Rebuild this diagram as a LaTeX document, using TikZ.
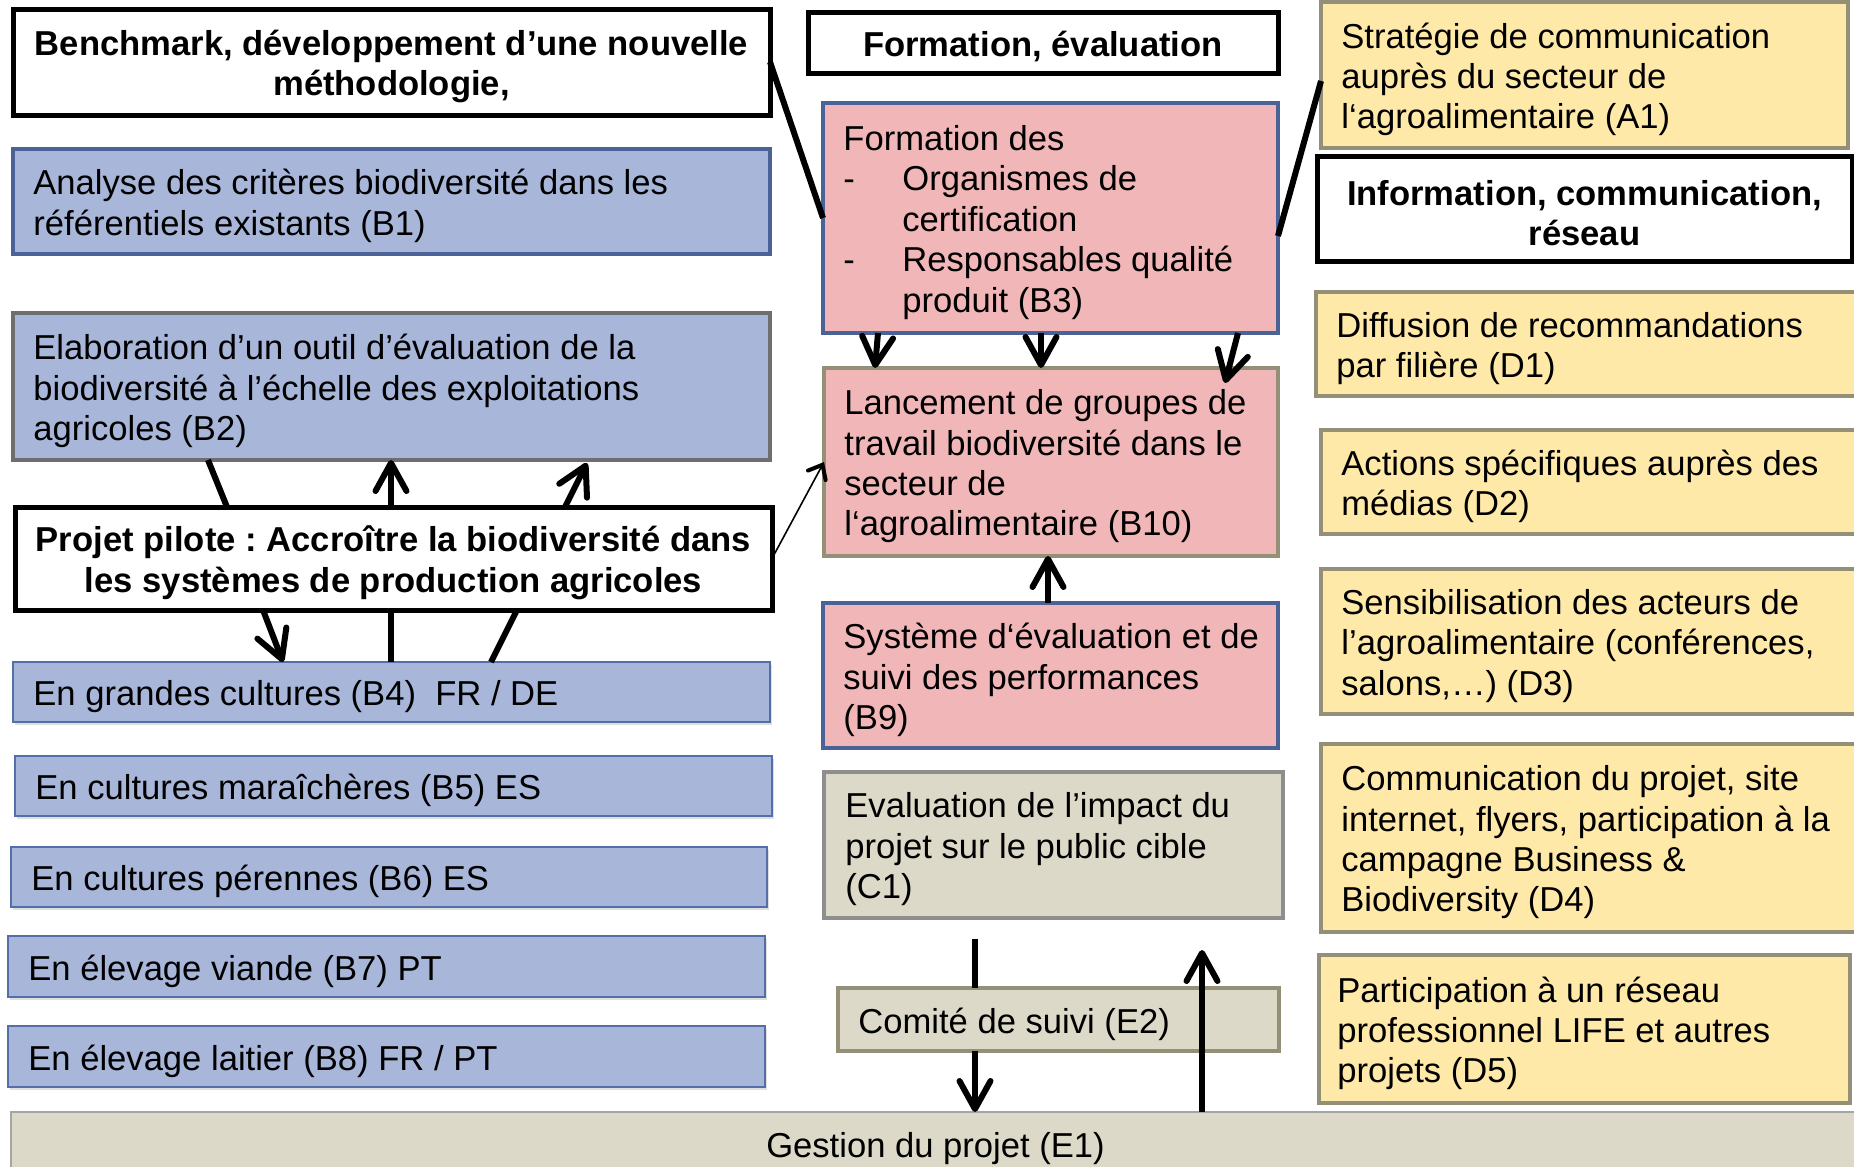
\documentclass[tikz,border=0pt]{standalone}
\usepackage{fontspec}
\setmainfont{Liberation Sans}
\usetikzlibrary{arrows.meta,shadows}
\frenchspacing
\definecolor{bluefill}{RGB}{167,182,217}
\definecolor{blueline}{RGB}{74,98,150}
\definecolor{bluethin}{RGB}{84,110,168}
\definecolor{pinkfill}{RGB}{241,182,183}
\definecolor{olive}{RGB}{148,144,120}
\definecolor{beige}{RGB}{220,217,200}
\definecolor{yellowfill}{RGB}{254,233,168}
\definecolor{grayline}{RGB}{110,110,110}
\definecolor{graylight}{RGB}{142,142,142}
\definecolor{grayE}{RGB}{165,165,165}
\tikzset{
  bbox/.style={rectangle, anchor=north west, inner sep=0pt, outer sep=0pt},
  hdr/.style={bbox, draw=black, line width=2.5pt, fill=white},
  htxt/.style={anchor=center, align=center, inner sep=0pt, font=\mainfs\bfseries},
  ctxt/.style={anchor=center, align=center, inner sep=0pt, font=\mainfs},
  bluebox/.style={bbox, fill=bluefill, draw=blueline, line width=2pt},
  bluethinbox/.style={bbox, fill=bluefill, draw=bluethin, line width=1pt,
     drop shadow={opacity=0.25, shadow xshift=1pt, shadow yshift=-1.5pt}},
  pinkbox/.style={bbox, fill=pinkfill, line width=2pt},
  beigebox/.style={bbox, fill=beige, line width=2.2pt},
  yelbox/.style={bbox, fill=yellowfill, draw=olive, line width=2.2pt},
  txt/.style={anchor=west, align=left, inner sep=0pt, font=\mainfs},
  conn/.style={line width=3pt, draw=black},
  arr/.style={conn, -{Straight Barb[length=14pt,width=15.5pt,line cap=round,line join=round]}},
  thinarr/.style={line width=0.8pt, draw=black, -{Straight Barb[length=6pt,width=10pt,line width=2pt,line cap=round]}}
}
\newcommand{\mainfs}{\fontsize{17.3pt}{20.2pt}\selectfont}
\begin{document}
\begin{tikzpicture}[x=0.5pt,y=-0.5pt]
\useasboundingbox (0,0) rectangle (1854,1167);
\clip (0,0) rectangle (1854,1167);

% ---------- left column ----------
\node[hdr, minimum width=378.5pt, minimum height=53pt] (bench) at (13,9) {};
\node[htxt] (bencht) at ([yshift=-2.2pt]bench.center) {Benchmark, développement d’une nouvelle\\méthodologie,};
\node[bluebox, minimum width=378.5pt, minimum height=52.5pt] (b1) at (13,149) {};
\node[txt] (b1t) at ([xshift=10pt,yshift=-2.2pt]b1.west) {Analyse des critères biodiversité dans les\\référentiels existants (B1)};
\node[bluebox, draw=grayline, minimum width=378.5pt, minimum height=73.5pt] (b2) at (13,313) {};
\node[txt] (b2t) at ([xshift=10pt,yshift=-2.2pt]b2.west) {Elaboration d’un outil d’évaluation de la\\biodiversité à l’échelle des exploitations\\agricoles (B2)};
\node[hdr, minimum width=378.5pt, minimum height=51.5pt] (pilot) at (15,507) {};
\node[htxt] (pilott) at ([yshift=-2.2pt]pilot.center) {Projet pilote : Accroître la biodiversité dans\\les systèmes de production agricoles};
\node[bluethinbox, minimum width=378.5pt, minimum height=30pt] (b4) at (13,662) {};
\node[txt] (b4t) at ([xshift=10pt,yshift=-2.2pt]b4.west) {En grandes cultures (B4)\ \ FR / DE};
\node[bluethinbox, minimum width=378.5pt, minimum height=30pt] (b5) at (15,756) {};
\node[txt] (b5t) at ([xshift=10pt,yshift=-2.2pt]b5.west) {En cultures maraîchères (B5) ES};
\node[bluethinbox, minimum width=378pt, minimum height=30pt] (b6) at (11,847) {};
\node[txt] (b6t) at ([xshift=10pt,yshift=-2.2pt]b6.west) {En cultures pérennes (B6) ES};
\node[bluethinbox, minimum width=378.5pt, minimum height=30.5pt] (b7) at (8,936) {};
\node[txt] (b7t) at ([xshift=10pt,yshift=-2.2pt]b7.west) {En élevage viande (B7) PT};
\node[bluethinbox, minimum width=378.5pt, minimum height=30.5pt] (b8) at (8,1026) {};
\node[txt] (b8t) at ([xshift=10pt,yshift=-2.2pt]b8.west) {En élevage laitier (B8) FR / PT};

% ---------- bottom ----------
\node[bbox, fill=beige, draw=grayE, line width=1pt, minimum width=924.5pt, minimum height=35pt] (e1) at (11,1112) {};
\node[ctxt] (e1t) at ([yshift=-0.8pt]e1.center) {Gestion du projet (E1)};

% ---------- middle column ----------
\node[hdr, minimum width=235pt, minimum height=30.5pt] (form) at (808,12) {};
\node[htxt] (formt) at ([yshift=-2.2pt]form.center) {Formation, évaluation};
\node[pinkbox, draw=blueline, minimum width=227.5pt, minimum height=115pt] (b3) at (823,103) {};
\node[txt] (b3t) at ([xshift=10pt,yshift=-2.2pt]b3.west) {Formation des\\
\makebox[29.5pt][l]{-}Organismes de\\
\hspace*{29.5pt}certification\\
\makebox[29.5pt][l]{-}Responsables qualité\\
\hspace*{29.5pt}produit (B3)};
\node[pinkbox, draw=olive, minimum width=227pt, minimum height=94pt] (b10) at (824,368) {};
\node[txt] (b10t) at ([xshift=10pt,yshift=-2.2pt]b10.west) {Lancement de groupes de\\travail biodiversité dans le\\secteur de\\l‘agroalimentaire (B10)};
\node[pinkbox, draw=blueline, minimum width=227.5pt, minimum height=72.5pt] (b9) at (823,603) {};
\node[txt] (b9t) at ([xshift=10pt,yshift=-2.2pt]b9.west) {Système d‘évaluation et de\\suivi des performances\\(B9)};
\node[beigebox, draw=graylight, minimum width=229.5pt, minimum height=73pt] (c1) at (824,772) {};
\node[txt] (c1t) at ([xshift=10.5pt,yshift=-2.2pt]c1.west) {Evaluation de l’impact du\\projet sur le public cible\\(C1)};
\node[beigebox, draw=olive, minimum width=220.5pt, minimum height=31.5pt] (e2) at (838,988) {};
\node[txt] (e2t) at ([xshift=10pt,yshift=-2.2pt]e2.west) {Comité de suivi (E2)};

% ---------- right column ----------
\node[yelbox, minimum width=263.5pt, minimum height=73pt] (a1) at (1321,2) {};
\node[txt] (a1t) at ([xshift=10pt,yshift=-2.2pt]a1.west) {Stratégie de communication\\auprès du secteur de\\l‘agroalimentaire (A1)};
\node[hdr, minimum width=267.5pt, minimum height=52.5pt] (info) at (1317,156) {};
\node[htxt] (infot) at ([yshift=-2.2pt]info.center) {Information, communication,\\réseau};
\node[yelbox, minimum width=271pt, minimum height=52pt] (d1) at (1316,292) {};
\node[txt] (d1t) at ([xshift=10pt,yshift=-2.2pt]d1.west) {Diffusion de recommandations\\par filière (D1)};
\node[yelbox, minimum width=268.5pt, minimum height=52pt] (d2) at (1321,430) {};
\node[txt] (d2t) at ([xshift=10pt,yshift=-2.2pt]d2.west) {Actions spécifiques auprès des\\médias (D2)};
\node[yelbox, minimum width=268.5pt, minimum height=72.5pt] (d3) at (1321,569) {};
\node[txt] (d3t) at ([xshift=10pt,yshift=-2.2pt]d3.west) {Sensibilisation des acteurs de\\l’agroalimentaire (conférences,\\salons,…) (D3)};
\node[yelbox, minimum width=268.5pt, minimum height=94pt] (d4) at (1321,744) {};
\node[txt] (d4t) at ([xshift=10pt,yshift=-2.2pt]d4.west) {Communication du projet, site\\internet, flyers, participation à la\\campagne Business \&\\Biodiversity (D4)};
\node[yelbox, minimum width=265.5pt, minimum height=74pt] (d5) at (1319,955) {};
\node[txt] (d5t) at ([xshift=9pt,yshift=-2.2pt]d5.west) {Participation à un réseau\\professionnel LIFE et autres\\projets (D5)};

% ---------- connectors ----------
\draw[conn] (bench.east) -- (b3.west);
\draw[conn] ([yshift=-3pt]a1.west) -- ([yshift=-9pt]b3.east);

\draw[conn] ([xshift=97.5pt]b2.south west) -- ([xshift=106pt]pilot.north west);
\draw[arr] ([xshift=188pt]pilot.north west) -- ([xshift=189pt]b2.south west);
\draw[arr] ([xshift=275pt]pilot.north west) -- ([xshift=287pt,yshift=-1.5pt]b2.south west);

\draw[arr] ([xshift=124pt]pilot.south west) -- ([xshift=135pt]b4.north west);
\draw[conn] ([xshift=188pt]pilot.south west) -- ([xshift=189pt]b4.north west);
\draw[conn] ([xshift=251pt]pilot.south west) -- ([xshift=239pt]b4.north west);

\draw[thinarr] (pilot.east) -- (b10.west);

\draw[arr] ([xshift=27.5pt]b3.south west) -- ([xshift=25.5pt]b10.north west);
\draw[arr] ([xshift=109pt]b3.south west) -- ([xshift=108.5pt]b10.north west);
\draw[arr] ([xshift=207.5pt]b3.south west) -- ([xshift=200.5pt,yshift=-7.5pt]b10.north west);

\draw[arr] ([xshift=112.5pt]b9.north west) -- ([xshift=112pt]b10.south west);

\coordinate (ctop) at (975,939);
\coordinate (cup) at (1202,950);
\draw[conn] (ctop) -- ([xshift=68.5pt]e2.north west);
\draw[arr] ([xshift=68.5pt]e2.south west) -- ([xshift=482pt]e1.north west);
\draw[arr] ([xshift=595.5pt]e1.north west) -- (cup);
\end{tikzpicture}
\end{document}
